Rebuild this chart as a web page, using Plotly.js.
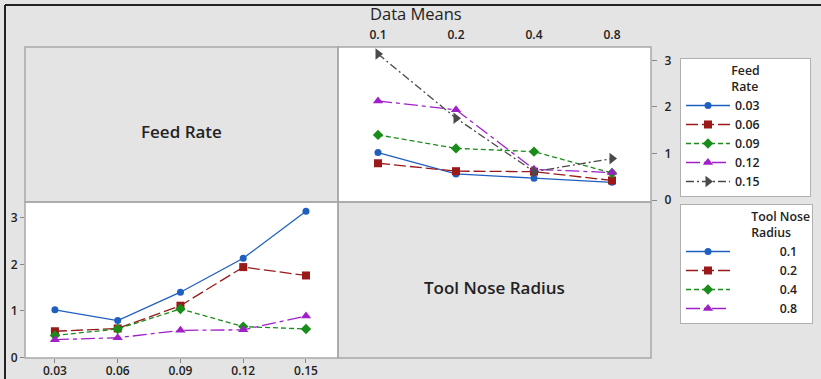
<!DOCTYPE html>
<html>
<head>
<meta charset="utf-8">
<script src="https://cdn.plot.ly/plotly-3.0.1.min.js"></script>
<style>
  html, body { margin: 0; padding: 0; background: #e4e4e4; }
  #chart { width: 821px; height: 379px; }
</style>
</head>
<body>
<div id="chart"></div>
<script>
// ---- Data ----
const feedRates = [0.03, 0.06, 0.09, 0.12, 0.15];
const toolNoseRadii = [0.1, 0.2, 0.4, 0.8];
const feedLabels = ["0.03", "0.06", "0.09", "0.12", "0.15"];
const tnrLabels = ["0.1", "0.2", "0.4", "0.8"];
// Mean response per tool nose radius across the feed rates
const meansTNR01 = [1.02, 0.79, 1.40, 2.13, 3.14];
const meansTNR02 = [0.56, 0.62, 1.11, 1.94, 1.76];
const meansTNR04 = [0.47, 0.61, 1.04, 0.66, 0.61];
const meansTNR08 = [0.38, 0.42, 0.58, 0.59, 0.89];

// ---- Styles ----
const W = 821, H = 379;
const px = x => x / W;
const py = y => 1 - y / H;
const colors = ["#1f5fbf", "#9a1a1a", "#1a8c1a", "#a020c8", "#4a4a4a"];
const symbols = ["circle", "square", "diamond", "triangle-up", "triangle-right"];
const dashes = ["solid", "12px,4px", "5px,3px", "14px,4px,4px,4px", "8px,3px,2px,3px"];
const msize = [7, 8, 8, 9, 10];
const NB = "\u00a0";
const padRight = (s, n) => s + NB.repeat(n);
const padLeft = (s, n, m) => NB.repeat(n) + s + NB.repeat(m);

const tnrRows = [meansTNR01, meansTNR02, meansTNR04, meansTNR08];
const traces = [];

// Bottom-left: x = feed rate, one line per tool nose radius
tnrRows.forEach((row, i) => {
  traces.push({
    x: feedRates, y: row, xaxis: "x", yaxis: "y",
    type: "scatter", mode: "lines+markers",
    name: padLeft(tnrLabels[i], 14, 3), legend: "legend2",
    line: { color: colors[i], width: 1.3, dash: dashes[i] },
    marker: { color: colors[i], symbol: symbols[i], size: msize[i] }
  });
});

// Top-right: x = tool nose radius, one line per feed rate
feedRates.forEach((f, j) => {
  traces.push({
    x: toolNoseRadii, y: tnrRows.map(r => r[j]), xaxis: "x2", yaxis: "y2",
    type: "scatter", mode: "lines+markers",
    name: padRight(feedLabels[j], 14), legend: "legend",
    line: { color: colors[j], width: 1.3, dash: dashes[j] },
    marker: { color: colors[j], symbol: symbols[j], size: msize[j] }
  });
});

const tickFont = { family: "Open Sans, DejaVu Sans, sans-serif", size: 12, color: "#222", weight: 600 };
const axisCommon = {
  showgrid: false, zeroline: false, showline: false,
  ticks: "outside", ticklen: 4, tickcolor: "#888", tickwidth: 1,
  tickfont: tickFont, fixedrange: true
};

const gray = "#a8a8a8";
const cell = (x0, y0, x1, y1) => ({
  type: "rect", xref: "paper", yref: "paper",
  x0: px(x0), x1: px(x1), y0: py(y1), y1: py(y0),
  line: { color: gray, width: 1.5 }, layer: "above"
});

const legendCommon = {
  x: px(680), xanchor: "left", yanchor: "top",
  bgcolor: "#ffffff", bordercolor: "#b0b0b0", borderwidth: 1,
  font: { size: 12.3, color: "#222", weight: 600 },
  itemwidth: 44, tracegroupgap: 0, itemclick: false
};

const layout = {
  width: W, height: H,
  margin: { l: 0, r: 0, t: 0, b: 0 },
  paper_bgcolor: "#e4e4e4",
  plot_bgcolor: "#ffffff",
  font: { family: "Open Sans, DejaVu Sans, sans-serif", color: "#222" },
  xaxis: Object.assign({}, axisCommon, {
    domain: [px(25), px(338)], anchor: "y",
    range: [0.0157, 0.1653], tickvals: feedRates, ticktext: feedLabels,
    ticklen: 4, ticklabelstandoff: -2
  }),
  yaxis: Object.assign({}, axisCommon, {
    domain: [py(358), py(202)], anchor: "x",
    range: [-0.015, 3.34], tickvals: [0, 1, 2, 3]
  }),
  xaxis2: Object.assign({}, axisCommon, {
    domain: [px(338), px(651)], anchor: "y2", side: "top", type: "log",
    range: [-1.1544, 0.0536], tickvals: toolNoseRadii, ticktext: tnrLabels,
    ticklen: 3, tickcolor: "rgba(0,0,0,0)", ticklabelstandoff: -1
  }),
  yaxis2: Object.assign({}, axisCommon, {
    domain: [py(202), py(47)], anchor: "x2", side: "right",
    range: [-0.043, 3.29], tickvals: [0, 1, 2, 3],
    ticklen: 5, ticklabelstandoff: 5
  }),
  showlegend: true,
  legend: Object.assign({}, legendCommon, {
    y: py(58),
    title: { text: "Feed<br>Rate", side: "top center", font: { size: 12.3, weight: 600 } }
  }),
  legend2: Object.assign({}, legendCommon, {
    y: py(204),
    title: { text: "Tool Nose<br>Radius", side: "top right", font: { size: 12.3, weight: 600 } }
  }),
  shapes: [
    cell(25, 47, 338, 202),
    cell(338, 47, 651, 202),
    cell(25, 202, 338, 358),
    cell(338, 202, 651, 358),
    { type: "line", xref: "paper", yref: "paper", x0: px(5), x1: 1, y0: py(5), y1: py(5), line: { color: "#222", width: 2 } },
    { type: "line", xref: "paper", yref: "paper", x0: px(5), x1: px(5), y0: 0, y1: py(5), line: { color: "#222", width: 2 } }
  ],
  annotations: [
    { text: "Data Means", xref: "paper", yref: "paper", x: px(416), y: py(14), showarrow: false,
      xanchor: "center", yanchor: "middle",
      font: { size: 16.5, color: "#222", weight: 500 } },
    { text: "Feed Rate", xref: "paper", yref: "paper", x: px(181), y: py(131), showarrow: false,
      xanchor: "center", yanchor: "middle",
      font: { size: 17, color: "#222", weight: 600 } },
    { text: "Tool Nose Radius", xref: "paper", yref: "paper", x: px(494), y: py(287), showarrow: false,
      xanchor: "center", yanchor: "middle",
      font: { size: 17, color: "#222", weight: 600 } }
  ]
};

Plotly.newPlot("chart", traces, layout, { displayModeBar: false, staticPlot: true });
</script>
</body>
</html>
